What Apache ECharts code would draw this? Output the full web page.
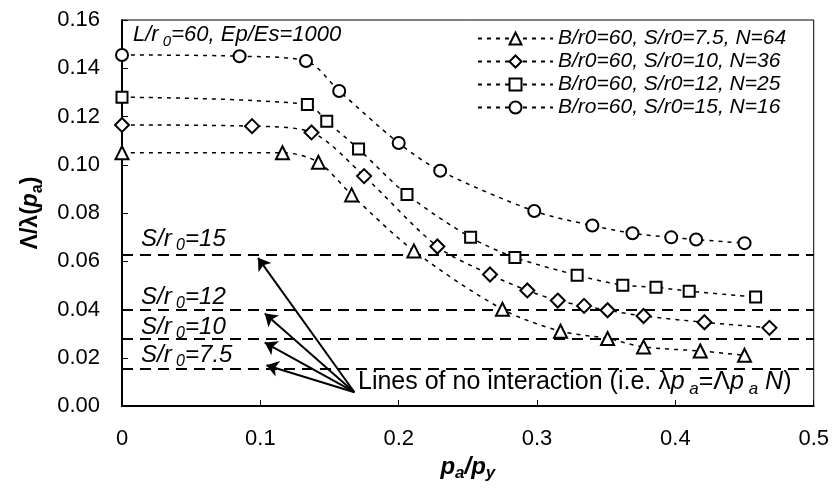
<!DOCTYPE html>
<html>
<head>
<meta charset="utf-8">
<script src="https://cdn.jsdelivr.net/npm/echarts@6/dist/echarts.min.js"></script>
<style>html,body{margin:0;padding:0;background:#fff}#c{width:832px;height:500px}</style>
</head>
<body>
<div id="c"></div>
<script>
// ---- data ----
const seriesNames = ['B/r0=60, S/r0=7.5, N=64', 'B/r0=60, S/r0=10, N=36', 'B/r0=60, S/r0=12, N=25', 'B/ro=60, S/r0=15, N=16'];
const triX = [0, 0.116, 0.142, 0.166, 0.211, 0.275, 0.317, 0.351, 0.377, 0.418, 0.450];
const triY = [0.105, 0.105, 0.101, 0.0875, 0.0643, 0.0401, 0.031, 0.028, 0.0245, 0.0228, 0.021];
const diaX = [0, 0.094, 0.137, 0.175, 0.228, 0.266, 0.293, 0.315, 0.334, 0.351, 0.377, 0.421, 0.468];
const diaY = [0.1165, 0.116, 0.1134, 0.0953, 0.0661, 0.0545, 0.0479, 0.0437, 0.0415, 0.0397, 0.0373, 0.0347, 0.0324];
const sqX = [0, 0.134, 0.148, 0.171, 0.206, 0.252, 0.284, 0.329, 0.362, 0.386, 0.410, 0.458];
const sqY = [0.128, 0.125, 0.118, 0.1065, 0.0877, 0.0699, 0.0616, 0.0542, 0.0501, 0.0492, 0.0476, 0.0452];
const cirX = [0, 0.085, 0.133, 0.157, 0.200, 0.230, 0.298, 0.340, 0.369, 0.397, 0.415, 0.450];
const cirY = [0.1455, 0.145, 0.143, 0.1306, 0.109, 0.0975, 0.0808, 0.0748, 0.0716, 0.0699, 0.069, 0.0675];
const noInteraction = [0.0625, 0.04, 0.02778, 0.015625];   // 1/N lines
const arrowStart = [0.168, 0.0057];
const arrowEnds = [[0.0983, 0.0614], [0.1032, 0.0383], [0.1032, 0.0263], [0.1044, 0.0169]];
const xTickLabels = ['0', '0.1', '0.2', '0.3', '0.4', '0.5'];
const yTickLabels = ['0.00', '0.02', '0.04', '0.06', '0.08', '0.10', '0.12', '0.14', '0.16'];

const F = 'Liberation Sans, Arial, sans-serif';
const zip = (xs, ys) => xs.map((x, i) => [x, ys[i]]);

function richT(fs) {
  return {
    i: {fontFamily: F, fontSize: fs, fontStyle: 'italic', lineHeight: fs + 6, verticalAlign: 'middle', color: '#000'},
    n: {fontFamily: F, fontSize: fs, lineHeight: fs + 6, verticalAlign: 'middle', color: '#000'},
    s: {fontFamily: F, fontSize: Math.round(fs * 0.68), fontStyle: 'italic', lineHeight: Math.round(fs * 0.68), verticalAlign: 'bottom', color: '#000'}
  };
}

function mkSeries(name, xs, ys, symbol, size) {
  return {
    name, type: 'line', data: zip(xs, ys), smooth: 0.3,
    symbol, symbolSize: size, showAllSymbol: true,
    lineStyle: {color: '#000', width: 1.5, type: [4, 5]},
    itemStyle: {color: '#fff', borderColor: '#000', borderWidth: 2},
    z: 5
  };
}

const chart = echarts.init(document.getElementById('c'), null, {renderer: 'canvas'});
chart.setOption({
  animation: false,
  backgroundColor: '#fff',
  grid: {left: 122, right: 18, top: 20, bottom: 94, show: true, borderColor: '#000', borderWidth: 1, backgroundColor: 'transparent'},
  legend: {
    data: seriesNames, orient: 'vertical', left: 472, top: 23,
    itemWidth: 75, itemHeight: 15, itemGap: 2, selectedMode: false,
    textStyle: {fontFamily: F, fontSize: 21, fontStyle: 'italic', color: '#000'}
  },
  xAxis: {
    type: 'value', min: 0, max: 0.5, interval: 0.1,
    axisLine: {lineStyle: {color: '#000', width: 2}},
    axisTick: {inside: true, length: 6, lineStyle: {color: '#000', width: 1}},
    splitLine: {show: false},
    axisLabel: {fontFamily: F, fontSize: 22, color: '#000', margin: 22,
      formatter: v => xTickLabels[Math.round(v / 0.1)]},
    name: '{p|p}{s|a}{p|/p}{s|y}', nameLocation: 'middle', nameGap: 43,
    nameTextStyle: {rich: {
      p: {fontFamily: F, fontSize: 24, fontStyle: 'italic', fontWeight: 'bold', lineHeight: 30, verticalAlign: 'middle', color: '#000'},
      s: {fontFamily: F, fontSize: 17, fontStyle: 'italic', fontWeight: 'bold', lineHeight: 17, verticalAlign: 'bottom', color: '#000'}
    }}
  },
  yAxis: {
    type: 'value', min: 0, max: 0.16, interval: 0.02,
    axisLine: {lineStyle: {color: '#000', width: 2}},
    axisTick: {inside: true, length: 6, lineStyle: {color: '#000', width: 1}},
    splitLine: {show: false},
    axisLabel: {fontFamily: F, fontSize: 22, color: '#000', margin: 22,
      formatter: v => yTickLabels[Math.round(v / 0.02)]},
    name: '{b|Λ/λ(}{p|p}{s|a}{b|)}', nameLocation: 'middle', nameGap: 76, nameRotate: 90,
    nameTextStyle: {rich: {
      b: {fontFamily: F, fontSize: 23, fontWeight: 'bold', lineHeight: 30, verticalAlign: 'middle', color: '#000'},
      p: {fontFamily: F, fontSize: 23, fontStyle: 'italic', fontWeight: 'bold', lineHeight: 30, verticalAlign: 'middle', color: '#000'},
      s: {fontFamily: F, fontSize: 16, fontWeight: 'bold', lineHeight: 16, verticalAlign: 'bottom', color: '#000'}
    }}
  },
  series: [
    mkSeries(seriesNames[0], triX, triY, 'triangle', 13),
    mkSeries(seriesNames[1], diaX, diaY, 'diamond', 14),
    mkSeries(seriesNames[2], sqX, sqY, 'rect', 11),
    mkSeries(seriesNames[3], cirX, cirY, 'circle', 12),
    {
      name: 'noInteraction', type: 'line', data: [], silent: true,
      markLine: {
        silent: true, precision: 6, symbol: ['none', 'none'], label: {show: false},
        lineStyle: {color: '#000', width: 2, type: [11, 7]},
        data: noInteraction.map(v => ({yAxis: v}))
      }
    },
    {
      name: 'arrows', type: 'line', data: [], silent: true,
      markLine: {
        silent: true, precision: 6, symbol: ['none', 'arrow'], symbolSize: 12, label: {show: false},
        lineStyle: {color: '#000', width: 2, type: 'solid', opacity: 1},
        itemStyle: {color: '#000'},
        emphasis: {disabled: true},
        data: arrowEnds.map(e => [
          {coord: arrowStart, symbol: 'none', lineStyle: {color: '#000', width: 2}},
          {coord: e, symbol: 'arrow', symbolSize: 12, itemStyle: {color: '#000'}}
        ])
      }
    }
  ],
  graphic: [
    {type: 'text', x: 133, y: 35, z: 10, style: {text: '{i|L/r}{s| 0}{i|=60, Ep/Es=1000}', rich: richT(22), verticalAlign: 'middle'}},
    {type: 'text', x: 141, y: 239, z: 10, style: {text: '{i|S/r}{s| 0}{i|=15}', rich: richT(24), verticalAlign: 'middle'}},
    {type: 'text', x: 141, y: 297, z: 10, style: {text: '{i|S/r}{s| 0}{i|=12}', rich: richT(24), verticalAlign: 'middle'}},
    {type: 'text', x: 141, y: 327, z: 10, style: {text: '{i|S/r}{s| 0}{i|=10}', rich: richT(24), verticalAlign: 'middle'}},
    {type: 'text', x: 141, y: 355, z: 10, style: {text: '{i|S/r}{s| 0}{i|=7.5}', rich: richT(24), verticalAlign: 'middle'}},
    {type: 'text', x: 358, y: 382, z: 10, style: {text: '{n|Lines of no interaction (i.e. λ}{i|p}{s| a}{n|=Λ}{i|p}{s| a}{i| N}{n|)}', rich: richT(25), verticalAlign: 'middle'}}
  ]
});
</script>
</body>
</html>
